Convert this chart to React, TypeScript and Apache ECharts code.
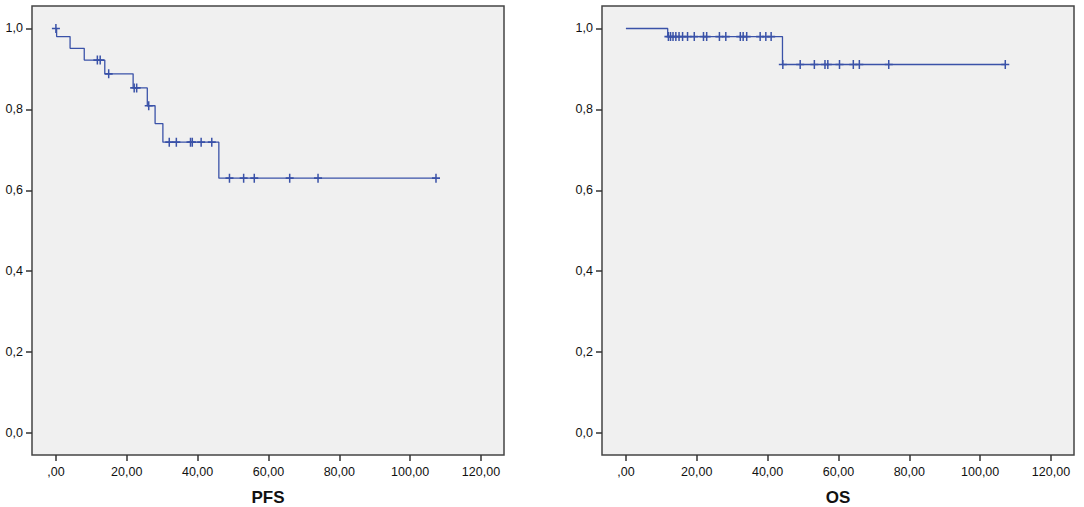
import React, { useEffect, useRef } from "react";
import * as echarts from "echarts";

// PFS (left panel)
const pfsEventTimes = [0, 0.2, 4.0, 8.0, 13.8, 21.8, 25.8, 28.0, 30.2, 46.0];
const pfsSurvival = [1.0, 0.98, 0.951, 0.922, 0.888, 0.853, 0.809, 0.765, 0.719, 0.63];
const pfsCensorTimes = [0, 11.7, 12.5, 14.9, 22.1, 22.8, 26.2, 32.0, 34.0, 38.0, 38.5, 41.0, 44.0, 49.0, 53.0, 56.0, 66.0, 74.0, 107.3];

// OS (right panel)
const osEventTimes = [0, 11.8, 44.2];
const osSurvival = [1.0, 0.98, 0.911];
const osCensorTimes = [12.0, 12.6, 13.3, 14.1, 15.0, 16.0, 17.4, 19.3, 21.9, 22.8, 26.4, 28.2, 32.3, 33.1, 34.1, 37.9, 39.5, 41.0, 44.3, 49.2, 53.2, 56.2, 57.0, 60.3, 64.2, 65.9, 74.2, 107.1];

const xTicks = [0, 20, 40, 60, 80, 100, 120];
const yTicks = [0, 0.2, 0.4, 0.6, 0.8, 1.0];
const panelNames = ["PFS", "OS"];

const LINE = "#3a52a8";
const FONT = "Liberation Sans, Arial, sans-serif";
const PLUS = "path://M6.5,0h3v6.5h6.5v3h-6.5v6.5h-3v-6.5h-6.5v-3h6.5z";

function survAt(times: number[], surv: number[], t: number) {
  let s = surv[0];
  for (let i = 0; i < times.length; i++) if (times[i] <= t) s = surv[i];
  return s;
}

function stepData(times: number[], surv: number[], censors: number[]) {
  const pts: number[][] = times.map((t, i) => [t, surv[i]]);
  const last = Math.max(...censors);
  pts.push([last, survAt(times, surv, last)]);
  return pts;
}

export default function App() {
  const ref = useRef<HTMLDivElement>(null);
  useEffect(() => {
    if (!ref.current) return;
    const chart = echarts.init(ref.current, null, { renderer: "svg" });
    const grids = [
      { left: 32, top: 6, width: 472, height: 449 },
      { left: 602, top: 6, width: 472, height: 449 },
    ].map((g) => ({
      ...g,
      show: true,
      containLabel: false,
      outerBoundsMode: "none",
      backgroundColor: "#f0f0f0",
      borderColor: "#444",
      borderWidth: 1.5,
    }));
    const xAxes = [0, 1].map((i) => ({
      type: "value",
      gridIndex: i,
      position: "bottom",
      min: -6.75,
      max: 126.5,
      name: panelNames[i],
      nameLocation: "middle",
      nameGap: 34,
      nameTextStyle: { fontFamily: FONT, fontSize: 17, fontWeight: "bold", color: "#111" },
      axisLine: { show: false, onZero: false },
      splitLine: { show: false },
      axisTick: { show: true, inside: false, length: 6, customValues: xTicks, lineStyle: { color: "#333", width: 1.5 } },
      axisLabel: {
        customValues: xTicks,
        margin: 10,
        fontFamily: FONT,
        fontSize: 12.5,
        color: "#111",
        formatter: (v: number) => (v === 0 ? ",00" : v.toFixed(2).replace(".", ",")),
      },
    }));
    const yAxes = [0, 1].map((i) => ({
      type: "value",
      gridIndex: i,
      position: "left",
      min: -0.0544,
      max: 1.0556,
      axisLine: { show: false, onZero: false },
      splitLine: { show: false },
      axisTick: { show: true, inside: false, length: 6, customValues: yTicks, lineStyle: { color: "#333", width: 1.5 } },
      axisLabel: {
        customValues: yTicks,
        margin: 9,
        fontFamily: FONT,
        fontSize: 12.5,
        color: "#111",
        formatter: (v: number) => v.toFixed(1).replace(".", ","),
      },
    }));
    const panels = [
      { times: pfsEventTimes, surv: pfsSurvival, cens: pfsCensorTimes },
      { times: osEventTimes, surv: osSurvival, cens: osCensorTimes },
    ];
    const series: any[] = [];
    panels.forEach((p, i) => {
      series.push({
        type: "line",
        xAxisIndex: i,
        yAxisIndex: i,
        step: "end",
        showSymbol: false,
        data: stepData(p.times, p.surv, p.cens),
        lineStyle: { color: LINE, width: 1.3 },
        itemStyle: { color: LINE },
        silent: true,
      });
      series.push({
        type: "scatter",
        xAxisIndex: i,
        yAxisIndex: i,
        symbol: PLUS,
        symbolSize: [8, 9],
        clip: false,
        data: p.cens.map((t) => [t, survAt(p.times, p.surv, t)]),
        itemStyle: { color: LINE, opacity: 1 },
        silent: true,
      });
    });
    chart.setOption({
      animation: false,
      backgroundColor: "#ffffff",
      grid: grids,
      xAxis: xAxes,
      yAxis: yAxes,
      series,
    });
    return () => chart.dispose();
  }, []);
  return (
    <div
      ref={ref}
      style={{ position: "fixed", left: 0, top: 0, width: 1084, height: 507, background: "#fff" }}
    />
  );
}
